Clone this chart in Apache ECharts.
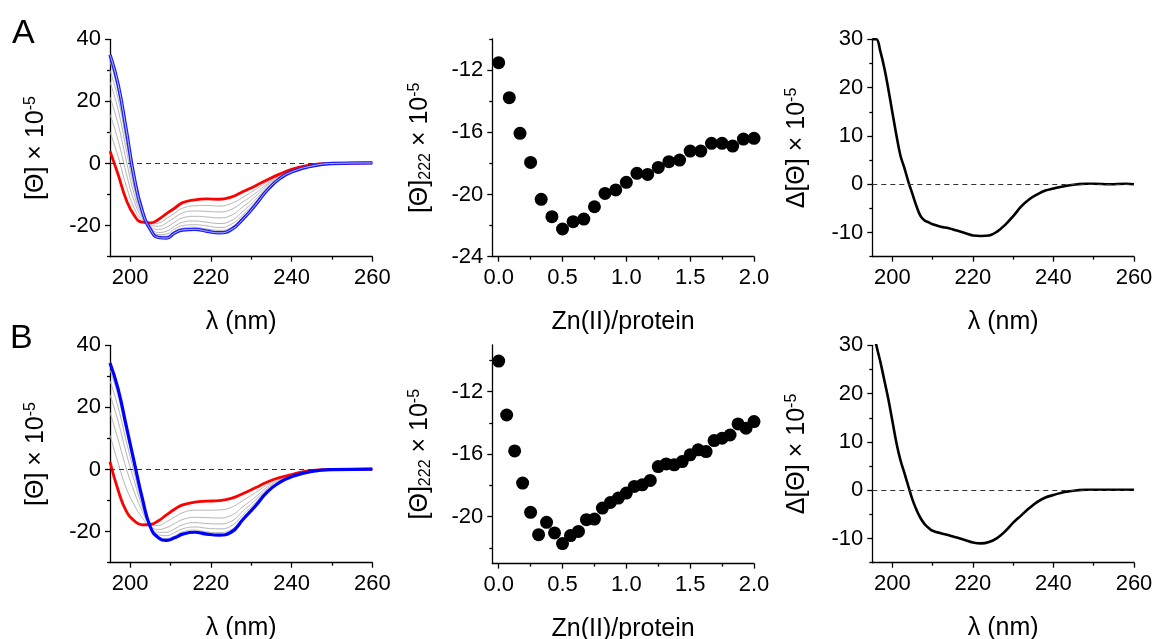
<!DOCTYPE html>
<html>
<head>
<meta charset="utf-8">
<script src="https://cdn.jsdelivr.net/npm/echarts@6/dist/echarts.min.js"></script>
<style>
  html, body { margin: 0; padding: 0; background: #fff; }
  #chart { width: 1155px; height: 639px; }
</style>
</head>
<body>
<div id="chart"></div>
<script>
// ---- CD spectra during Zn(II) titration (mean residue ellipticity x 10^-5) ----
const wl = [195,197,199,201,203,205,207,209,211,213,216,219,222,225,228,231,234,237,240,245,250,260];

// Set A
const specA_apo   = [4.0,-3.5,-11.6,-16.7,-18.9,-19.1,-18.0,-16.1,-14.4,-12.6,-11.7,-11.4,-11.5,-10.8,-9.0,-7.2,-5.2,-3.4,-1.9,-0.4,0.0,0.2];
const specA_zn1   = [10.2,2.3,-7.1,-14.3,-18.2,-19.5,-19.2,-17.7,-16.0,-14.4,-13.6,-13.5,-13.7,-12.9,-10.8,-8.4,-5.9,-3.7,-2.1,-0.5,0.0,0.2];
const specA_zn2   = [15.8,7.5,-3.0,-12.1,-17.5,-19.9,-20.2,-19.1,-17.4,-15.9,-15.3,-15.4,-15.6,-14.8,-12.3,-9.6,-6.5,-4.0,-2.2,-0.6,0.0,0.2];
const specA_zn3   = [21.4,12.7,1.1,-9.9,-16.9,-20.3,-21.2,-20.5,-18.9,-17.5,-17.0,-17.2,-17.5,-16.7,-13.9,-10.7,-7.0,-4.2,-2.4,-0.6,0.0,0.2];
const specA_zn4   = [26.3,17.4,4.7,-7.9,-16.3,-20.6,-22.2,-21.8,-20.2,-18.9,-18.5,-18.9,-19.3,-18.4,-15.3,-11.7,-7.6,-4.5,-2.5,-0.7,0.0,0.2];
const specA_zn5   = [30.0,20.9,7.4,-6.5,-15.9,-20.9,-22.9,-22.7,-21.1,-20.0,-19.7,-20.1,-20.6,-19.6,-16.4,-12.4,-8.0,-4.7,-2.6,-0.7,0.0,0.2];
const specA_zn6   = [32.8,23.5,9.4,-5.4,-15.6,-21.1,-23.4,-23.4,-21.8,-20.8,-20.5,-21.1,-21.5,-20.6,-17.2,-13.0,-8.3,-4.8,-2.6,-0.8,0.0,0.2];
const specA_final = [35.0,25.5,11.0,-4.5,-15.3,-21.2,-23.8,-24.0,-22.4,-21.4,-21.2,-21.8,-22.3,-21.3,-17.8,-13.4,-8.5,-4.9,-2.7,-0.8,0.0,0.2];

// Set B
const specB_apo   = [2.5,-6.6,-13.3,-16.5,-17.8,-17.7,-16.5,-14.6,-12.8,-11.4,-10.5,-10.2,-10.0,-9.3,-7.7,-5.9,-4.0,-2.6,-1.6,-0.3,0.0,0.1];
const specB_zn1   = [11.1,2.2,-5.9,-11.4,-15.5,-17.9,-18.0,-16.8,-15.3,-13.9,-13.1,-13.1,-13.0,-12.2,-9.9,-7.5,-4.9,-3.0,-1.8,-0.4,0.0,0.1];
const specB_zn2   = [18.4,9.7,0.5,-7.1,-13.5,-18.1,-19.3,-18.7,-17.4,-16.1,-15.4,-15.5,-15.6,-14.8,-11.9,-8.9,-5.6,-3.4,-2.0,-0.5,0.0,0.1];
const specB_zn3   = [24.1,15.6,5.4,-3.6,-12.0,-18.2,-20.2,-20.2,-19.1,-17.8,-17.1,-17.4,-17.5,-16.7,-13.3,-9.9,-6.2,-3.7,-2.1,-0.5,0.0,0.1];
const specB_zn4   = [28.6,20.1,9.3,-1.0,-10.8,-18.4,-21.0,-21.3,-20.3,-19.1,-18.5,-18.9,-19.1,-18.2,-14.5,-10.7,-6.6,-3.9,-2.2,-0.5,0.0,0.1];
const specB_zn5   = [32.1,23.7,12.3,1.1,-9.8,-18.4,-21.6,-22.2,-21.4,-20.1,-19.5,-20.1,-20.3,-19.4,-15.4,-11.4,-7.0,-4.1,-2.2,-0.6,0.0,0.1];
const specB_final = [34.3,26.0,14.2,2.4,-9.2,-18.5,-22.0,-22.8,-22.0,-20.8,-20.2,-20.8,-21.1,-20.2,-16.0,-11.8,-7.2,-4.2,-2.3,-0.6,0.0,0.1];

// ---- Titration curves: [Theta]222 vs Zn(II)/protein ----
const ratioA = [0,0.083,0.167,0.25,0.333,0.417,0.5,0.583,0.667,0.75,0.833,0.917,1.0,1.083,1.167,1.25,1.333,1.417,1.5,1.583,1.667,1.75,1.833,1.917,2.0];
const theta222A = [-11.53,-13.78,-16.07,-17.94,-20.31,-21.43,-22.22,-21.75,-21.58,-20.79,-19.93,-19.71,-19.22,-18.64,-18.71,-18.26,-17.89,-17.79,-17.21,-17.21,-16.71,-16.71,-16.89,-16.44,-16.39];

const ratioB = [0,0.0625,0.125,0.1875,0.25,0.3125,0.375,0.4375,0.5,0.5625,0.625,0.6875,0.75,0.8125,0.875,0.9375,1.0,1.0625,1.125,1.1875,1.25,1.3125,1.375,1.4375,1.5,1.5625,1.625,1.6875,1.75,1.8125,1.875,1.9375,2.0];
const theta222B = [-10.04,-13.49,-15.79,-17.85,-19.72,-21.15,-20.36,-21.04,-21.72,-21.21,-20.94,-20.19,-20.15,-19.45,-19.09,-18.81,-18.49,-18.06,-17.96,-17.68,-16.79,-16.62,-16.68,-16.47,-16.04,-15.72,-15.83,-15.13,-14.98,-14.77,-14.06,-14.34,-13.91];

// ---- Difference spectra (final - apo) ----
const wlDiff = [195,196,197,198,199,200,201,202,203,204,205,206,207,208,209,210,212,214,216,218,220,222,224,226,228,230,232,234,236,238,240,242,244,246,248,250,254,258,260];
const diffA = [30,30,27.5,24.0,19.6,14.8,10.1,5.9,3.3,0.4,-2.1,-4.6,-6.6,-7.5,-7.9,-8.3,-8.8,-9.1,-9.6,-10.1,-10.6,-10.7,-10.6,-9.8,-8.4,-6.6,-4.6,-3.1,-2.1,-1.3,-0.9,-0.5,-0.2,0.0,0.1,0.1,0.0,0.1,0.0];
const diffB = [34,30,26.6,22.7,18.8,14.3,9.8,6.2,3.5,0.7,-2.0,-4.1,-5.8,-7.0,-7.8,-8.4,-8.9,-9.3,-9.8,-10.3,-10.8,-11.0,-10.7,-9.9,-8.5,-6.7,-5.2,-3.7,-2.4,-1.5,-1.0,-0.5,-0.2,0.0,0.1,0.1,0.1,0.1,0.1];

// ---- Axis ticks ----
const wlMajor = [200,220,240,260], wlMinor = [210,230,250];
const specMajor = [-20,0,20,40], specMinor = [-30,-10,10,30];
const ratioMajor = [0,0.5,1.0,1.5,2.0], ratioMinor = [0.25,0.75,1.25,1.75];
const titAMajor = [-24,-20,-16,-12], titAMinor = [-22,-18,-14,-10];
const titBMajor = [-20,-16,-12], titBMinor = [-22,-18,-14,-10];
const diffMajor = [-10,0,10,20,30], diffMinor = [-15,-5,5,15,25];

const FONT = '"Liberation Sans", Arial, Helvetica, sans-serif';

const zip = (xs, ys) => xs.map((x, i) => [x, ys[i]]);

const grids = [
  { left: 110,   top: 39.3,  width: 262.3, height: 217.4 },
  { left: 492.3, top: 38.9,  width: 261.7, height: 217.8 },
  { left: 872.3, top: 39.3,  width: 261.7, height: 217.4 },
  { left: 110,   top: 345.3, width: 262.3, height: 217.4 },
  { left: 492.3, top: 344.8, width: 261.7, height: 218.8 },
  { left: 872.3, top: 345.3, width: 261.7, height: 217.4 }
].map(g => Object.assign({ containLabel: false, outerBoundsMode: 'none' }, g));

const nameRich = {
  t:   { fontSize: 25, fontFamily: FONT, color: '#000', lineHeight: 27, verticalAlign: 'middle' },
  sup: { fontSize: 16, fontFamily: FONT, color: '#000', lineHeight: 14, verticalAlign: 'top' },
  sub: { fontSize: 16, fontFamily: FONT, color: '#000', lineHeight: 14, verticalAlign: 'bottom' }
};

const xAxes = [], yAxes = [];

function addAxes(list, dim, gridIndex, o) {
  const isX = dim === 'x';
  const base = {
    type: 'value', gridIndex, min: o.min, max: o.max,
    position: isX ? 'bottom' : 'left',
    splitLine: { show: false },
    axisPointer: { show: false }
  };
  list.push(Object.assign({}, base, {
    axisLine: { show: true, onZero: false, lineStyle: { color: '#000', width: 1.3 } },
    axisTick: { show: true, inside: false, length: 5, customValues: o.major, lineStyle: { color: '#000', width: 1.3 } },
    axisLabel: {
      show: true, customValues: o.major, color: '#000', fontSize: 22, fontFamily: FONT,
      margin: isX ? 10 : 9, formatter: o.fmt || (v => String(v)), hideOverlap: false
    },
    name: o.name, nameLocation: 'middle', nameGap: o.gap, nameRotate: isX ? 0 : 90,
    nameTextStyle: isX
      ? { fontSize: 25, fontFamily: FONT, color: '#000' }
      : { fontSize: 25, fontFamily: FONT, color: '#000', lineHeight: 36, rich: nameRich }
  }));
  list.push(Object.assign({}, base, {
    axisLine: { show: false, onZero: false },
    axisTick: { show: true, inside: false, length: 3, customValues: o.minor, lineStyle: { color: '#000', width: 1.3 } },
    axisLabel: { show: false }
  }));
}

const specName = '{t|[Θ] × 10}{sup|-5}';
const titName  = '{t|[Θ]}{sub|222}{t| × 10}{sup|-5}';
const diffName = '{t|Δ[Θ] × 10}{sup|-5}';
const wlName = 'λ (nm)', ratioName = 'Zn(II)/protein';
const ratioFmt = v => v.toFixed(1);

// row A
addAxes(xAxes, 'x', 0, { min: 195, max: 260, major: wlMajor, minor: wlMinor, name: wlName, gap: 53 });
addAxes(yAxes, 'y', 0, { min: -30, max: 40, major: specMajor, minor: specMinor, name: specName, gap: 60 });
addAxes(xAxes, 'x', 1, { min: -0.05, max: 2.0, major: ratioMajor, minor: ratioMinor, name: ratioName, gap: 53, fmt: ratioFmt });
addAxes(yAxes, 'y', 1, { min: -24, max: -10, major: titAMajor, minor: titAMinor, name: titName, gap: 59 });
addAxes(xAxes, 'x', 2, { min: 195, max: 260, major: wlMajor, minor: wlMinor, name: wlName, gap: 53 });
addAxes(yAxes, 'y', 2, { min: -15, max: 30, major: diffMajor, minor: diffMinor, name: diffName, gap: 62 });
// row B
addAxes(xAxes, 'x', 3, { min: 195, max: 260, major: wlMajor, minor: wlMinor, name: wlName, gap: 53 });
addAxes(yAxes, 'y', 3, { min: -30, max: 40, major: specMajor, minor: specMinor, name: specName, gap: 60 });
addAxes(xAxes, 'x', 4, { min: -0.05, max: 2.0, major: ratioMajor, minor: ratioMinor, name: ratioName, gap: 53, fmt: ratioFmt });
addAxes(yAxes, 'y', 4, { min: -23, max: -9, major: titBMajor, minor: titBMinor, name: titName, gap: 59 });
addAxes(xAxes, 'x', 5, { min: 195, max: 260, major: wlMajor, minor: wlMinor, name: wlName, gap: 53 });
addAxes(yAxes, 'y', 5, { min: -15, max: 30, major: diffMajor, minor: diffMinor, name: diffName, gap: 62 });

const zeroLine = {
  silent: true, symbol: 'none', animation: false,
  label: { show: false },
  lineStyle: { type: [5, 4], color: '#333', width: 1.2 },
  data: [{ yAxis: 0 }]
};

function spectrum(g, ys, color, width, z, extra) {
  return Object.assign({
    type: 'line', xAxisIndex: 2 * g, yAxisIndex: 2 * g,
    data: zip(wl, ys), showSymbol: false, symbol: 'none',
    smooth: 0.5, z,
    lineStyle: { color, width }
  }, extra || {});
}

const series = [];
// Panel A spectra
[specA_zn1, specA_zn2, specA_zn3, specA_zn4, specA_zn5, specA_zn6].forEach(s =>
  series.push(spectrum(0, s, '#b4b4b4', 1, 2)));
series.push(spectrum(0, specA_apo, '#ff0000', 2.8, 4, { markLine: zeroLine }));
series.push(spectrum(0, specA_final, '#1c1cf0', 3.4, 5));
series.push(spectrum(0, specA_final, '#b8b8ff', 1, 6));
// Panel B spectra
[specB_zn1, specB_zn2, specB_zn3, specB_zn4, specB_zn5].forEach(s =>
  series.push(spectrum(3, s, '#b4b4b4', 1, 2)));
series.push(spectrum(3, specB_apo, '#ff0000', 2.8, 4, { markLine: zeroLine }));
series.push(spectrum(3, specB_final, '#0000ff', 3.2, 5));

// Titration points
series.push({
  type: 'scatter', xAxisIndex: 2, yAxisIndex: 2, data: zip(ratioA, theta222A),
  symbol: 'circle', symbolSize: 13, itemStyle: { color: '#000', opacity: 1 }, z: 3
});
series.push({
  type: 'scatter', xAxisIndex: 8, yAxisIndex: 8, data: zip(ratioB, theta222B),
  symbol: 'circle', symbolSize: 13, itemStyle: { color: '#000', opacity: 1 }, z: 3
});

// Difference spectra
series.push({
  type: 'line', xAxisIndex: 4, yAxisIndex: 4, data: zip(wlDiff, diffA),
  showSymbol: false, symbol: 'none', smooth: 0.4,
  lineStyle: { color: '#000', width: 2.6 }, markLine: zeroLine, z: 3
});
series.push({
  type: 'line', xAxisIndex: 10, yAxisIndex: 10, data: zip(wlDiff, diffB),
  showSymbol: false, symbol: 'none', smooth: 0.4,
  lineStyle: { color: '#000', width: 2.6 }, markLine: zeroLine, z: 3
});

const chart = echarts.init(document.getElementById('chart'), null, { renderer: 'canvas' });
chart.setOption({
  animation: false,
  backgroundColor: '#fff',
  textStyle: { fontFamily: FONT },
  grid: grids,
  xAxis: xAxes,
  yAxis: yAxes,
  series,
  graphic: [
    { type: 'text', left: 12, top: 17, style: { text: 'A', fontSize: 34, fontFamily: FONT, fill: '#000' } },
    { type: 'text', left: 10, top: 322, style: { text: 'B', fontSize: 34, fontFamily: FONT, fill: '#000' } }
  ]
});
</script>
</body>
</html>
